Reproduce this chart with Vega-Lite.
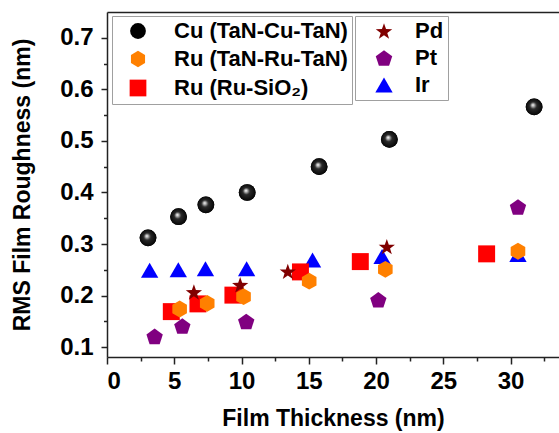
{
  "$schema": "https://vega.github.io/schema/vega-lite/v6.json",
  "width": 452,
  "height": 345,
  "autosize": {"type": "none"},
  "padding": {"left": 107, "top": 12, "right": 0, "bottom": 76},
  "background": "white",
  "config": {
    "view": {"stroke": null},
    "font": "Liberation Sans",
    "axis": {
      "grid": false,
      "domainColor": "#222222",
      "tickColor": "#222222",
      "domainWidth": 1.5,
      "tickWidth": 1.5,
      "labelFont": "Liberation Sans",
      "labelFontWeight": "bold",
      "labelColor": "#000000",
      "titleFont": "Liberation Sans",
      "titleFontWeight": "bold",
      "titleColor": "#000000"
    },
    "legend": {
      "labelFont": "Liberation Sans",
      "labelFontWeight": "bold",
      "labelColor": "#000000"
    }
  },
  "datasets": {
    "pts": [
      {"series": "Cu (TaN-Cu-TaN)", "x": 3.05, "y": 0.312},
      {"series": "Cu (TaN-Cu-TaN)", "x": 5.32, "y": 0.353},
      {"series": "Cu (TaN-Cu-TaN)", "x": 7.35, "y": 0.376},
      {"series": "Cu (TaN-Cu-TaN)", "x": 10.42, "y": 0.4},
      {"series": "Cu (TaN-Cu-TaN)", "x": 15.77, "y": 0.45},
      {"series": "Cu (TaN-Cu-TaN)", "x": 20.99, "y": 0.503},
      {"series": "Cu (TaN-Cu-TaN)", "x": 31.75, "y": 0.566},
      {"series": "Ir", "x": 3.17, "y": 0.249},
      {"series": "Ir", "x": 5.3, "y": 0.25},
      {"series": "Ir", "x": 7.32, "y": 0.252},
      {"series": "Ir", "x": 10.38, "y": 0.252},
      {"series": "Ir", "x": 15.28, "y": 0.269},
      {"series": "Ir", "x": 20.45, "y": 0.276},
      {"series": "Ir", "x": 30.55, "y": 0.28},
      {"series": "Ru (Ru-SiO₂)", "x": 4.78, "y": 0.169},
      {"series": "Ru (Ru-SiO₂)", "x": 6.76, "y": 0.184},
      {"series": "Ru (Ru-SiO₂)", "x": 9.36, "y": 0.201},
      {"series": "Ru (Ru-SiO₂)", "x": 14.38, "y": 0.246},
      {"series": "Ru (Ru-SiO₂)", "x": 18.83, "y": 0.266},
      {"series": "Ru (Ru-SiO₂)", "x": 28.22, "y": 0.281},
      {"series": "Pd", "x": 6.46, "y": 0.207},
      {"series": "Pd", "x": 9.9, "y": 0.221},
      {"series": "Pd", "x": 13.44, "y": 0.247},
      {"series": "Pd", "x": 20.8, "y": 0.295},
      {"series": "Ru (TaN-Ru-TaN)", "x": 5.4, "y": 0.174},
      {"series": "Ru (TaN-Ru-TaN)", "x": 7.45, "y": 0.185},
      {"series": "Ru (TaN-Ru-TaN)", "x": 10.15, "y": 0.198},
      {"series": "Ru (TaN-Ru-TaN)", "x": 15.03, "y": 0.228},
      {"series": "Ru (TaN-Ru-TaN)", "x": 20.69, "y": 0.251},
      {"series": "Ru (TaN-Ru-TaN)", "x": 30.55, "y": 0.286},
      {"series": "Pt", "x": 3.54, "y": 0.121},
      {"series": "Pt", "x": 5.6, "y": 0.141},
      {"series": "Pt", "x": 10.35, "y": 0.15},
      {"series": "Pt", "x": 20.17, "y": 0.192},
      {"series": "Pt", "x": 30.55, "y": 0.372}
    ]
  },
  "data": {"name": "pts"},
  "resolve": {
    "scale": {"color": "independent", "shape": "independent", "size": "independent"},
    "axis": {"x": "independent", "y": "independent"}
  },
  "layer": [
    {
      "mark": {"type": "point", "filled": true, "opacity": 1, "strokeWidth": 0},
      "encoding": {
        "x": {
          "field": "x", "type": "quantitative",
          "scale": {"domain": [0, 33.6], "nice": false, "zero": false},
          "axis": {
            "orient": "bottom",
            "values": [0, 5, 10, 15, 20, 25, 30],
            "tickSize": 7,
            "labelPadding": 5,
            "labelFontSize": 24,
            "title": "Film Thickness (nm)",
            "titleFontSize": 23,
            "titlePadding": 14
          }
        },
        "y": {
          "field": "y", "type": "quantitative",
          "scale": {"domain": [0.081, 0.75], "nice": false, "zero": false},
          "axis": {
            "orient": "left",
            "values": [0.1, 0.2, 0.3, 0.4, 0.5, 0.6, 0.7],
            "format": ".1f",
            "tickSize": 6,
            "labelPadding": 8,
            "labelFontSize": 24,
            "title": "RMS Film Roughness (nm)",
            "titleFontSize": 23,
            "titlePadding": 25
          }
        },
        "color": {
          "field": "series", "type": "nominal",
          "scale": {
            "domain": ["Cu (TaN-Cu-TaN)", "Ru (TaN-Ru-TaN)", "Ru (Ru-SiO₂)", "Pd", "Pt", "Ir"],
            "range": ["#000000", "#ff8000", "#ff0000", "#800000", "#800080", "#0000ff"]
          },
          "legend": null
        },
        "shape": {
          "field": "series", "type": "nominal",
          "scale": {
            "domain": ["Cu (TaN-Cu-TaN)", "Ru (TaN-Ru-TaN)", "Ru (Ru-SiO₂)", "Pd", "Pt", "Ir"],
            "range": [
              "circle",
              "M0,-1L0.866,-0.5L0.866,0.5L0,1L-0.866,0.5L-0.866,-0.5Z",
              "square",
              "M0,-0.905L0.235,-0.229L0.951,-0.214L0.38,0.219L0.588,0.904L0,0.495L-0.588,0.904L-0.38,0.219L-0.951,-0.214L-0.235,-0.229Z",
              "M0,-0.905L0.951,-0.214L0.588,0.904L-0.588,0.904L-0.951,-0.214Z",
              "triangle-up"
            ]
          },
          "legend": null
        },
        "size": {
          "field": "series", "type": "nominal",
          "scale": {
            "domain": ["Cu (TaN-Cu-TaN)", "Ru (TaN-Ru-TaN)", "Ru (Ru-SiO₂)", "Pd", "Pt", "Ir"],
            "range": [280, 300, 200, 310, 330, 390]
          },
          "legend": null
        }
      }
    },
    {
      "transform": [{"filter": {"field": "series", "equal": "Cu (TaN-Cu-TaN)"}}],
      "mark": {
        "type": "point", "filled": true, "strokeWidth": 0, "size": 280, "shape": "circle", "opacity": 1,
        "fill": {"gradient": "radial", "x1": 0.42, "y1": 0.38, "r1": 0, "x2": 0.5, "y2": 0.5, "r2": 0.55,
                 "stops": [{"offset": 0, "color": "#ffffff"}, {"offset": 0.12, "color": "#c8c8c8"}, {"offset": 0.38, "color": "#2a2a2a"}, {"offset": 1, "color": "#000000"}]}
      },
      "encoding": {
        "x": {"field": "x", "type": "quantitative", "axis": null},
        "y": {"field": "y", "type": "quantitative", "axis": null}
      }
    },
    {
      "transform": [{"filter": {"field": "x", "lt": -100}}],
      "mark": {"type": "point", "filled": true, "opacity": 1, "strokeWidth": 0},
      "encoding": {
        "x": {
          "field": "x", "type": "quantitative",
          "axis": {"orient": "top", "ticks": false, "labels": false, "title": null, "domain": true, "grid": false}
        },
        "y": {
          "field": "y", "type": "quantitative",
          "axis": {"orient": "left", "values": [0.15, 0.25, 0.35, 0.45, 0.55, 0.65], "tickSize": 3.5, "labels": false, "domain": false, "title": null}
        },
        "color": {
          "field": "series", "type": "nominal",
          "scale": {
            "domain": ["Cu (TaN-Cu-TaN)", "Ru (TaN-Ru-TaN)", "Ru (Ru-SiO₂)"],
            "range": ["#000000", "#ff8000", "#ff0000"]
          },
          "legend": {
            "title": null, "orient": "none", "legendX": 5, "legendY": 4,
            "strokeColor": "#a0a0a0", "fillColor": "white", "padding": 4,
            "symbolOffset": 11, "labelOffset": 25, "rowPadding": 5,
            "labelFontSize": 22, "labelLimit": 400, "symbolOpacity": 1,
            "encode": {
              "symbols": {
                "update": {
                  "opacity": {"value": 1},
                  "fill": [
                    {"test": "datum.value === 'Cu (TaN-Cu-TaN)'",
                     "value": {"gradient": "radial", "x1": 0.42, "y1": 0.38, "r1": 0, "x2": 0.5, "y2": 0.5, "r2": 0.55,
                               "stops": [{"offset": 0, "color": "#ffffff"}, {"offset": 0.12, "color": "#c8c8c8"}, {"offset": 0.38, "color": "#2a2a2a"}, {"offset": 1, "color": "#000000"}]}},
                    {"test": "datum.value === 'Ru (TaN-Ru-TaN)'", "value": "#ff8000"},
                    {"value": "#ff0000"}
                  ]
                }
              }
            }
          }
        },
        "shape": {
          "field": "series", "type": "nominal",
          "scale": {
            "domain": ["Cu (TaN-Cu-TaN)", "Ru (TaN-Ru-TaN)", "Ru (Ru-SiO₂)"],
            "range": ["circle", "M0,-1L0.866,-0.5L0.866,0.5L0,1L-0.866,0.5L-0.866,-0.5Z", "square"]
          }
        },
        "size": {
          "field": "series", "type": "nominal",
          "scale": {
            "domain": ["Cu (TaN-Cu-TaN)", "Ru (TaN-Ru-TaN)", "Ru (Ru-SiO₂)"],
            "range": [250, 280, 225]
          }
        }
      }
    },
    {
      "transform": [{"filter": {"field": "x", "lt": -100}}],
      "mark": {"type": "point", "filled": true, "opacity": 1, "strokeWidth": 0},
      "encoding": {
        "x": {
          "field": "x", "type": "quantitative",
          "axis": {"orient": "bottom", "values": [2.5, 7.5, 12.5, 17.5, 22.5, 27.5, 32.5], "tickSize": 4, "labels": false, "domain": false, "title": null}
        },
        "y": {"field": "y", "type": "quantitative", "axis": null},
        "color": {
          "field": "series", "type": "nominal",
          "scale": {"domain": ["Pd", "Pt", "Ir"], "range": ["#800000", "#800080", "#0000ff"]},
          "legend": {
            "title": null, "orient": "none", "legendX": 248, "legendY": 4,
            "strokeColor": "#a0a0a0", "fillColor": "white", "padding": 4,
            "symbolOffset": 14, "labelOffset": 20, "rowPadding": 5,
            "labelFontSize": 22, "labelLimit": 400, "symbolOpacity": 1,
            "encode": {"symbols": {"update": {"opacity": {"value": 1}}}}
          }
        },
        "shape": {
          "field": "series", "type": "nominal",
          "scale": {
            "domain": ["Pd", "Pt", "Ir"],
            "range": [
              "M0,-0.905L0.235,-0.229L0.951,-0.214L0.38,0.219L0.588,0.904L0,0.495L-0.588,0.904L-0.38,0.219L-0.951,-0.214L-0.235,-0.229Z",
              "M0,-0.905L0.951,-0.214L0.588,0.904L-0.588,0.904L-0.951,-0.214Z",
              "triangle-up"
            ]
          }
        },
        "size": {
          "field": "series", "type": "nominal",
          "scale": {"domain": ["Pd", "Pt", "Ir"], "range": [300, 300, 400]}
        }
      }
    }
  ]
}
